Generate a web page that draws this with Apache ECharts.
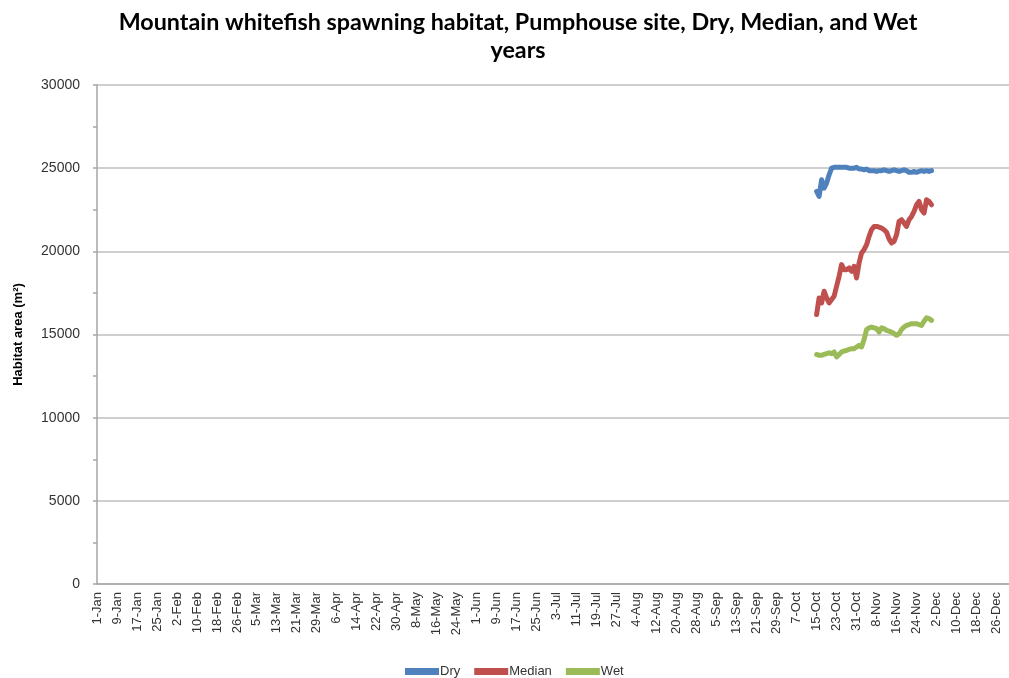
<!DOCTYPE html>
<html>
<head>
<meta charset="utf-8">
<title>Mountain whitefish spawning habitat</title>
<script src="https://cdn.jsdelivr.net/npm/echarts@6/dist/echarts.min.js"></script>
<style>
  html, body { margin: 0; padding: 0; background: #ffffff; }
  #chart { width: 1009px; height: 678px; }
</style>
</head>
<body>
<div id="chart"></div>
<script>
// Calendar used for the daily category axis (leap year, 366 days)
const monthNames = ['Jan', 'Feb', 'Mar', 'Apr', 'May', 'Jun', 'Jul', 'Aug', 'Sep', 'Oct', 'Nov', 'Dec'];
const monthDays = [31, 29, 31, 30, 31, 30, 31, 31, 30, 31, 30, 31];

// Spawning period: 15-Oct (day index 288) to 30-Nov
const seriesStartIndex = 288;

// Habitat area (m²), one value per day from 15-Oct
const dryValues = [
  23600, 23300, 24300, 23800, 24100, 24600, 25000, 25050, 25050, 25050,
  25050, 25050, 25050, 25000, 25000, 25000, 25050, 24950, 24950, 24900,
  24950, 24850, 24850, 24850, 24800, 24850, 24850, 24900, 24850, 24800,
  24850, 24900, 24850, 24800, 24850, 24900, 24850, 24750, 24750, 24800,
  24750, 24800, 24850, 24800, 24850, 24800, 24850
];
const medianValues = [
  16200, 17200, 16900, 17600, 17200, 16900, 17100, 17300, 17900, 18500,
  19200, 18900, 18900, 19000, 18800, 19100, 18400, 19300, 19900, 20100,
  20400, 20900, 21300, 21500, 21500, 21450, 21400, 21300, 21150, 20750,
  20500, 20600, 21000, 21800, 21900, 21700, 21500, 21900, 22100, 22400,
  22800, 23000, 22500, 22300, 23100, 23000, 22800
];
const wetValues = [
  13800, 13750, 13750, 13800, 13850, 13900, 13850, 13950, 13650, 13800,
  13950, 14000, 14050, 14100, 14150, 14150, 14250, 14350, 14250, 14700,
  15300, 15400, 15450, 15400, 15350, 15150, 15400, 15350, 15250, 15200,
  15150, 15050, 14950, 15050, 15300, 15450, 15550, 15600, 15650, 15650,
  15650, 15600, 15550, 15800, 16000, 15950, 15850
];

const seriesNames = ['Dry', 'Median', 'Wet'];
const seriesColors = ['#4f81bd', '#c0504d', '#9bbb59'];

// Y axis range and label step
const yMin = 0;
const yMax = 30000;
const yStep = 5000;

// "d-Mon" label for every day of the year
const dayLabels = [];
monthNames.forEach(function (m, mi) {
  for (let d = 1; d <= monthDays[mi]; d++) dayLabels.push(d + '-' + m);
});

// Place a series on the full-year axis, empty outside the spawning period
function onYearAxis(values) {
  const out = new Array(dayLabels.length).fill(null);
  values.forEach(function (v, i) { out[seriesStartIndex + i] = v; });
  return out;
}

const chart = echarts.init(document.getElementById('chart'), null, { renderer: 'canvas' });

const textColor = '#333333';
const axisGray = '#a6a6a6';
const labelFont = 'Liberation Sans';

chart.setOption({
  animation: false,
  backgroundColor: '#ffffff',
  title: {
    text: 'Mountain whitefish spawning habitat, Pumphouse site, Dry, Median, and Wet\nyears',
    left: 513,
    top: 3,
    textAlign: 'center',
    textStyle: {
      fontFamily: 'Lato',
      fontWeight: 'bold',
      fontSize: 23.3,
      lineHeight: 28,
      color: '#000000'
    }
  },
  legend: {
    data: seriesNames,
    left: 400,
    top: 660,
    icon: 'rect',
    itemWidth: 34,
    itemHeight: 7,
    itemGap: 14,
    textStyle: {
      fontFamily: labelFont,
      fontSize: 13,
      color: textColor,
      padding: [0, 0, 0, -4]
    }
  },
  grid: {
    left: 97,
    right: 0,
    top: 85,
    bottom: 94,
    containLabel: false,
    outerBoundsMode: 'none'
  },
  xAxis: {
    type: 'category',
    data: dayLabels,
    boundaryGap: false,
    axisLine: { show: true, lineStyle: { color: axisGray, width: 1.5 } },
    axisTick: { show: false },
    axisLabel: {
      interval: 7,
      rotate: 90,
      margin: 8,
      fontFamily: labelFont,
      fontSize: 13,
      color: textColor
    },
    splitLine: { show: false }
  },
  yAxis: {
    type: 'value',
    min: yMin,
    max: yMax,
    interval: yStep,
    name: 'Habitat area (m²)',
    nameLocation: 'middle',
    nameGap: 72,
    nameRotate: 90,
    nameTextStyle: {
      fontFamily: labelFont,
      fontWeight: 'bold',
      fontSize: 13,
      color: '#000000'
    },
    axisLine: { show: true, lineStyle: { color: axisGray, width: 1.5 } },
    axisTick: { show: true, length: 4, lineStyle: { color: axisGray, width: 1.5 } },
    minorTick: { show: true, splitNumber: 2, length: 4, lineStyle: { color: axisGray, width: 1.5 } },
    axisLabel: {
      margin: 17,
      fontFamily: labelFont,
      fontSize: 14,
      color: textColor,
      formatter: function (v) { return String(v); }
    },
    splitLine: { show: true, lineStyle: { color: '#bfbfbf', width: 1.5 } }
  },
  series: [dryValues, medianValues, wetValues].map(function (vals, i) {
    return {
      name: seriesNames[i],
      type: 'line',
      data: onYearAxis(vals),
      showSymbol: false,
      symbol: 'none',
      connectNulls: false,
      color: seriesColors[i],
      lineStyle: { width: 5, color: seriesColors[i], cap: 'round', join: 'round' },
      z: 3
    };
  })
});
</script>
</body>
</html>
